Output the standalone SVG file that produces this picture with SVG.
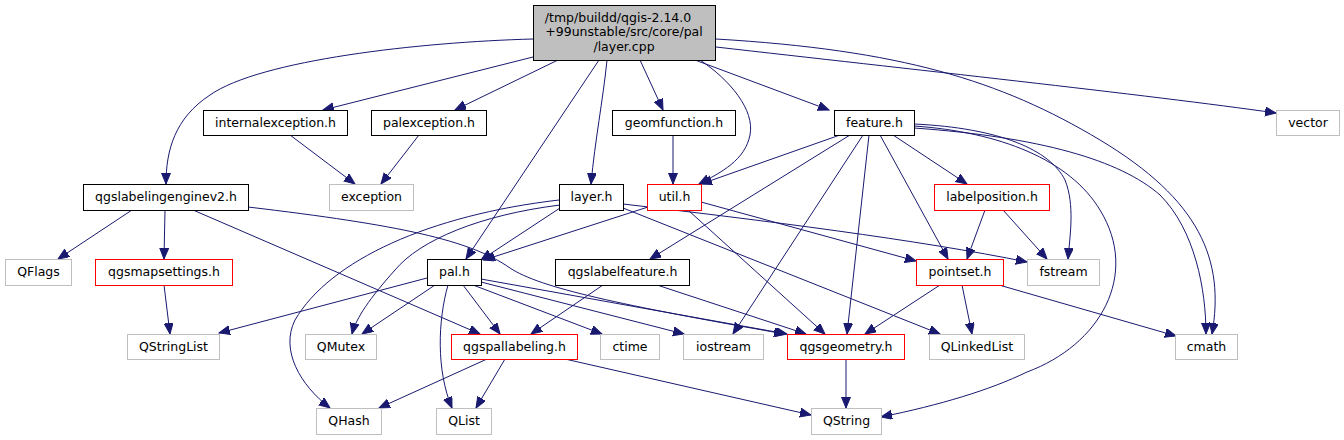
<svg xmlns="http://www.w3.org/2000/svg" width="1344" height="440" viewBox="0 0 1344 440">
<style>
text{font-family:"DejaVu Sans","Liberation Sans",sans-serif;font-size:12.5px;fill:#000;text-anchor:middle}
.n rect{fill:#fff;stroke:#000;stroke-width:1}
.r rect{fill:#fff;stroke:#ff0000;stroke-width:1}
.g rect{fill:#fff;stroke:#bfbfbf;stroke-width:1}
.top rect{fill:#bfbfbf;stroke:#000;stroke-width:1}
#edges path{fill:none;stroke:#191970;stroke-width:1;marker-end:url(#ah)}
</style>
<defs>
<marker id="ah" markerUnits="userSpaceOnUse" markerWidth="12" markerHeight="10" refX="11" refY="4.5" orient="auto" viewBox="0 0 12 10">
<path d="M0,0 L11,4.5 L0,9 z" fill="#191970" stroke="#191970" stroke-width="1"/>
</marker>
</defs>
<rect width="1344" height="440" fill="#fff"/>
<g id="edges">
<path d="M533,39 C420,42 260,60 210,95 C175,118 166,150 166,184"/>
<path d="M533,57 L323,110"/>
<path d="M558,60 L455,110"/>
<path d="M599,60 L466,259"/>
<path d="M607,60 C603,100 595,140 591,184"/>
<path d="M640,60 L663,110"/>
<path d="M700,60 C730,80 755,110 750,135 C745,160 722,172 699,184"/>
<path d="M695,60 L829,110"/>
<path d="M716,47 C900,68 1150,95 1276,113"/>
<path d="M716,39 C900,50 1000,80 1100,140 C1200,200 1225,260 1212,334"/>
<path d="M290,135 L355,184"/>
<path d="M419,135 L381,184"/>
<path d="M673,135 L673,184"/>
<path d="M840,135 L701,184"/>
<path d="M850,135 L650,259"/>
<path d="M863,135 L733,334"/>
<path d="M869,135 L847,334"/>
<path d="M880,135 L948,259"/>
<path d="M893,135 L967,184"/>
<path d="M914,124 C1000,128 1050,150 1065,180 C1075,205 1070,235 1068,259"/>
<path d="M914,126 C1000,132 1070,160 1100,210 C1140,275 1100,345 1027,372 C990,390 940,405 881,417"/>
<path d="M914,128 C1040,137 1120,160 1160,195 C1195,230 1206,290 1206,334"/>
<path d="M985,210 L967,259"/>
<path d="M1003,210 L1047,259"/>
<path d="M560,208 L481,260"/>
<path d="M648,207 L484,260"/>
<path d="M701,202 L916,261"/>
<path d="M688,210 L825,334"/>
<path d="M623,208 L940,334"/>
<path d="M623,204 C760,220 920,240 1027,262"/>
<path d="M559,200 C430,215 330,260 295,320 C280,350 300,385 330,408"/>
<path d="M560,205 C480,215 420,240 395,270 C370,298 356,318 352,334"/>
<path d="M132,210 L58,259"/>
<path d="M165,210 L164,259"/>
<path d="M193,210 L480,334"/>
<path d="M248,207 C400,225 470,240 510,268 C540,288 620,305 785,334"/>
<path d="M164,285 L170,334"/>
<path d="M427,278 L219,333"/>
<path d="M435,285 L362,334"/>
<path d="M448,285 C438,320 436,370 452,408"/>
<path d="M463,285 L500,334"/>
<path d="M473,285 L602,334"/>
<path d="M481,282 L684,334"/>
<path d="M481,279 L787,334"/>
<path d="M603,285 L531,334"/>
<path d="M657,285 L806,334"/>
<path d="M940,285 L865,334"/>
<path d="M962,285 L972,334"/>
<path d="M999,285 L1176,336"/>
<path d="M487,359 L379,408"/>
<path d="M505,359 L476,408"/>
<path d="M565,359 L811,415"/>
<path d="M846,359 L846,408"/>
</g>
<g id="layer_cpp" class="top"><rect x="533.5" y="5.5" width="182" height="55"/><text x="618" y="21.5">/tmp/buildd/qgis-2.14.0</text><text x="624" y="36">+99unstable/src/core/pal</text><text x="624" y="50.5">/layer.cpp</text></g>
<g id="internalexception_h" class="n"><rect x="203.5" y="110.5" width="144" height="25"/><text x="275.5" y="127">internalexception.h</text></g>
<g id="palexception_h" class="n"><rect x="371.5" y="110.5" width="115" height="25"/><text x="429" y="127">palexception.h</text></g>
<g id="geomfunction_h" class="n"><rect x="612.5" y="110.5" width="123" height="25"/><text x="674" y="127">geomfunction.h</text></g>
<g id="feature_h" class="n"><rect x="834.5" y="110.5" width="80" height="25"/><text x="874.5" y="127">feature.h</text></g>
<g id="vector" class="g"><rect x="1276.5" y="110.5" width="63" height="25"/><text x="1308" y="127">vector</text></g>
<g id="qgslabelingenginev2_h" class="n"><rect x="83.5" y="184.5" width="165" height="26"/><text x="166" y="201">qgslabelingenginev2.h</text></g>
<g id="exception" class="g"><rect x="329.5" y="184.5" width="84" height="26"/><text x="371.5" y="201">exception</text></g>
<g id="layer_h" class="n"><rect x="559.5" y="184.5" width="64" height="26"/><text x="591.5" y="201">layer.h</text></g>
<g id="util_h" class="r"><rect x="647.5" y="184.5" width="54" height="26"/><text x="674.5" y="201">util.h</text></g>
<g id="labelposition_h" class="r"><rect x="934.5" y="184.5" width="115" height="26"/><text x="992" y="201">labelposition.h</text></g>
<g id="QFlags" class="g"><rect x="5.5" y="259.5" width="66" height="26"/><text x="38.5" y="276">QFlags</text></g>
<g id="qgsmapsettings_h" class="r"><rect x="95.5" y="259.5" width="137" height="26"/><text x="164" y="276">qgsmapsettings.h</text></g>
<g id="pal_h" class="n"><rect x="427.5" y="259.5" width="54" height="26"/><text x="454.5" y="276">pal.h</text></g>
<g id="qgslabelfeature_h" class="n"><rect x="555.5" y="259.5" width="134" height="26"/><text x="622.5" y="276">qgslabelfeature.h</text></g>
<g id="pointset_h" class="r"><rect x="916.5" y="259.5" width="87" height="26"/><text x="960" y="276">pointset.h</text></g>
<g id="fstream" class="g"><rect x="1027.5" y="259.5" width="72" height="26"/><text x="1063.5" y="276">fstream</text></g>
<g id="QStringList" class="g"><rect x="127.5" y="334.5" width="92" height="25"/><text x="173.5" y="351">QStringList</text></g>
<g id="QMutex" class="g"><rect x="305.5" y="334.5" width="71" height="25"/><text x="341" y="351">QMutex</text></g>
<g id="qgspallabeling_h" class="r"><rect x="451.5" y="334.5" width="126" height="25"/><text x="514.5" y="351">qgspallabeling.h</text></g>
<g id="ctime" class="g"><rect x="600.5" y="334.5" width="59" height="25"/><text x="630" y="351">ctime</text></g>
<g id="iostream" class="g"><rect x="683.5" y="334.5" width="80" height="25"/><text x="723.5" y="351">iostream</text></g>
<g id="qgsgeometry_h" class="r"><rect x="787.5" y="334.5" width="117" height="25"/><text x="846" y="351">qgsgeometry.h</text></g>
<g id="QLinkedList" class="g"><rect x="929.5" y="334.5" width="95" height="25"/><text x="977" y="351">QLinkedList</text></g>
<g id="cmath" class="g"><rect x="1175.5" y="334.5" width="62" height="25"/><text x="1206.5" y="351">cmath</text></g>
<g id="QHash" class="g"><rect x="316.5" y="408.5" width="65" height="26"/><text x="349" y="425">QHash</text></g>
<g id="QList" class="g"><rect x="436.5" y="408.5" width="55" height="26"/><text x="464" y="425">QList</text></g>
<g id="QString" class="g"><rect x="811.5" y="408.5" width="70" height="26"/><text x="846.5" y="425">QString</text></g>
</svg>
